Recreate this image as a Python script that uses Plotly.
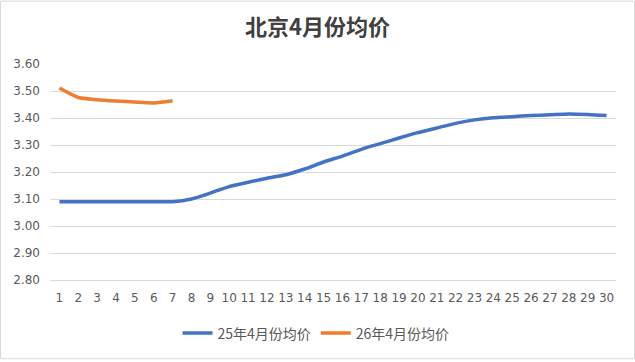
import plotly.graph_objects as go

days = [str(i) for i in range(1, 31)]
price_25 = [3.09, 3.09, 3.09, 3.09, 3.09, 3.09, 3.09, 3.10, 3.122, 3.146,
            3.162, 3.177, 3.19, 3.211, 3.237, 3.259, 3.284, 3.305, 3.326, 3.346,
            3.363, 3.38, 3.393, 3.401, 3.405, 3.409, 3.412, 3.415, 3.413, 3.409]
price_26 = [3.511, 3.476, 3.468, 3.463, 3.459, 3.456, 3.464]
name_25 = "25年4月份均价"
name_26 = "26年4月份均价"
title = "北京4月份均价"
y_ticks = [2.8, 2.9, 3.0, 3.1, 3.2, 3.3, 3.4, 3.5, 3.6]

FONT = "Noto Sans CJK SC, Microsoft YaHei, sans-serif"
TICKFONT = "DejaVu Sans, sans-serif"

fig = go.Figure()
fig.add_trace(go.Scatter(x=days, y=price_25, mode="lines", name=name_25,
                         line=dict(color="#4472C4", width=3.5, shape="spline", smoothing=0.6)))
fig.add_trace(go.Scatter(x=days[:len(price_26)], y=price_26, mode="lines", name=name_26,
                         line=dict(color="#ED7D31", width=3.5, shape="spline", smoothing=0.6)))

L, R, T, B = 50, 19, 64, 80
W, H = 635, 362
pw, ph = W - L - R, H - T - B

fig.update_layout(
    width=W, height=H,
    margin=dict(l=L, r=R, t=T, b=B),
    paper_bgcolor="white", plot_bgcolor="white",
    font=dict(family=FONT, color="#595959", size=12),
    title=dict(text="<b>" + title + "</b>", x=0.5, xanchor="center", y=1 - 27 / H, yanchor="middle",
               font=dict(family=FONT, size=22, color="#404040")),
    showlegend=True,
    legend=dict(orientation="h", x=(316 - L) / pw, xanchor="center", y=(ph - (336 - T)) / ph, yanchor="middle",
                font=dict(family=FONT, size=14, color="#595959"), bgcolor="rgba(0,0,0,0)"),
    xaxis=dict(type="category", categoryorder="array", categoryarray=days,
               range=[-0.5, 29.5], showgrid=False, zeroline=False,
               showline=True, linecolor="#d9d9d9", linewidth=1, ticks="",
               ticklabelstandoff=7,
               tickfont=dict(family=TICKFONT, size=12, color="#595959")),
    yaxis=dict(range=[2.8, 3.6], tickvals=y_ticks, tickformat=".2f",
               showgrid=True, gridcolor="#d9d9d9", gridwidth=1, zeroline=False,
               showline=False, ticks="", ticklabelstandoff=9,
               tickfont=dict(family=TICKFONT, size=12, color="#595959")),
    shapes=[dict(type="rect", xref="paper", yref="paper",
                 x0=(0.5 - L) / pw, x1=(W - 0.5 - L) / pw,
                 y0=(T + ph - (H - 0.5)) / ph, y1=(T + ph - 0.5) / ph,
                 line=dict(color="#d9d9d9", width=1), fillcolor="rgba(0,0,0,0)", layer="below")],
)

fig.write_html("out.html", config={"displayModeBar": False},
               post_script="document.body.style.margin='0';document.body.style.padding='0';")
